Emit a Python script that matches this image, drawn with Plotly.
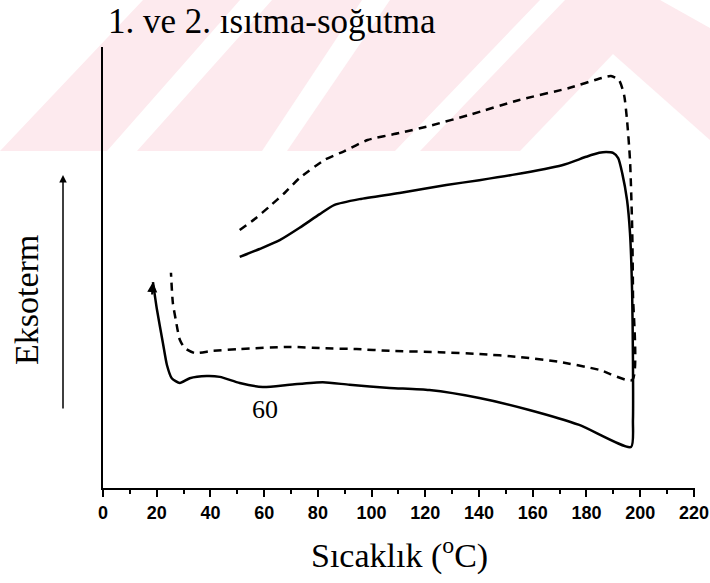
import plotly.graph_objects as go

# ---- data (temperature in °C, signal in arbitrary units) ----
solid_T = [50.9, 58.3, 65.8, 73.2, 80.7, 86.2, 95.5, 110.4, 127.8, 140.1, 152.4, 170.9, 179.9,
           184.7, 187.3, 189.9, 191.8, 193.3, 195.1, 196.2, 197.0, 197.3, 197.3, 196.6,
           177.3, 158.7, 140.1, 121.5, 106.7, 91.8, 81.8, 69.5, 59.5, 50.9, 43.5, 38.6, 32.3,
           28.6, 25.6, 23.8, 22.3, 20.1, 18.6]
solid_S = [52.4, 54.2, 56.2, 59.0, 62.1, 64.2, 65.5, 66.9, 68.7, 69.8, 71.0, 73.2, 75.1,
           76.0, 76.2, 76.0, 74.8, 71.4, 65.3, 57.8, 44.2, 29.0, 15.4, 9.3,
           14.3, 17.7, 20.4, 22.2, 22.7, 23.4, 24.0, 23.4, 22.9, 23.8, 25.2, 25.4, 24.9,
           23.8, 24.9, 27.9, 32.9, 40.4, 46.7]

dash_T = [50.9, 56.5, 62.1, 67.6, 73.2, 82.5, 89.9, 98.5, 110.4, 121.5, 136.4, 155.0, 173.5,
          185.8, 189.1, 192.1, 194.0, 195.1, 196.2, 197.0, 197.3, 197.0,
          184.7, 169.8, 155.0, 140.1, 125.2, 106.7, 94.4, 81.8, 69.5, 50.9, 40.9, 34.2,
          30.5, 28.6, 27.1, 26.0, 25.3]
dash_S = [58.5, 61.0, 63.9, 66.9, 70.3, 74.4, 76.4, 78.9, 80.5, 82.1, 84.6, 88.0, 90.7,
          93.0, 93.4, 92.5, 89.1, 83.4, 74.4, 59.2, 44.2, 24.5,
          26.8, 28.6, 29.7, 30.4, 30.8, 31.1, 31.5, 31.7, 32.0, 31.5, 31.1, 30.6,
          31.7, 33.6, 38.1, 42.0, 48.8]

x_ticks = [0, 20, 40, 60, 80, 100, 120, 140, 160, 180, 200, 220]

title_text = "1. ve 2. ısıtma-soğutma"
x_title = "Sıcaklık (<sup>o</sup>C)"
y_title = "Eksoterm"
curve_label = "60"
label_pos = (60.2, 17.7)

# ---- layout geometry (pixels) ----
W, H = 710, 583
ML, MR, MT, MB = 103, 15, 47, 95
PW, PH = W - ML - MR, H - MT - MB


def px(x):
    return (x - ML) / PW


def py(y):
    return (H - MB - y) / PH


def poly(points):
    return "M " + " L ".join(f"{px(a):.4f},{py(b):.4f}" for a, b in points) + " Z"


fig = go.Figure()
fig.add_trace(go.Scatter(x=solid_T, y=solid_S, mode="lines",
                         line=dict(color="black", width=2.5, shape="spline", smoothing=0.6),
                         showlegend=False, hoverinfo="skip"))
fig.add_trace(go.Scatter(x=dash_T, y=dash_S, mode="lines",
                         line=dict(color="black", width=2.5, dash="8px,6px", shape="spline", smoothing=0.6),
                         showlegend=False, hoverinfo="skip"))

# watermark (faint pink stripes)
pink = "#fdeaee"
shapes = [
    dict(type="path", xref="paper", yref="paper", layer="below", line_width=0, fillcolor=pink,
         path=poly([(0, 151), (143, 0), (710, 0), (710, 151)])),
]
white_polys = [
    [(107, 151), (137, 151), (272, 0), (240, 0)],
    [(262, 151), (287, 151), (390, 0), (362, 0)],
    [(395, 151), (420, 151), (565, 0), (540, 0)],
    [(520, 151), (613, 54), (710, 140), (710, 151)],
    [(660, 0), (710, 0), (710, 28)],
]
for pts in white_polys:
    shapes.append(dict(type="path", xref="paper", yref="paper", layer="below", line_width=0,
                       fillcolor="white", path=poly(pts)))

annotations = [
    dict(text=title_text, x=px(106), y=py(21), xref="paper", yref="paper", xanchor="left",
         yanchor="middle", showarrow=False, font=dict(family="Liberation Serif", size=35, color="black")),
    dict(text=x_title, x=px(399), y=py(553), xref="paper", yref="paper", xanchor="center",
         yanchor="middle", showarrow=False, font=dict(family="Liberation Serif", size=34, color="black")),
    dict(text=y_title, x=px(26), y=py(300), xref="paper", yref="paper", xanchor="center",
         yanchor="middle", textangle=-90, showarrow=False,
         font=dict(family="Liberation Serif", size=34, color="black")),
    dict(text=curve_label, x=label_pos[0], y=label_pos[1], xref="x", yref="y", showarrow=False,
         font=dict(family="Liberation Serif", size=26, color="black")),
    # exotherm arrow
    dict(text="", x=px(63), y=py(175), xref="paper", yref="paper", showarrow=True,
         ax=0, ay=235, arrowhead=2, arrowsize=1, arrowwidth=1.5, arrowcolor="black"),
    # arrowhead on the end of the solid curve
    dict(text="", x=solid_T[-1], y=solid_S[-1], xref="x", yref="y", showarrow=True,
         ax=-1, ay=14, arrowhead=2, arrowsize=1, arrowwidth=2, arrowcolor="black"),
]

fig.update_layout(
    width=W, height=H,
    margin=dict(l=ML, r=MR, t=MT, b=MB, autoexpand=False),
    paper_bgcolor="white", plot_bgcolor="rgba(0,0,0,0)",
    shapes=shapes, annotations=annotations,
    xaxis=dict(range=[0, 220.4], tickvals=x_ticks, ticktext=[str(v) for v in x_ticks],
               showline=True, linecolor="black", linewidth=2, ticks="outside", ticklen=7,
               tickwidth=2, tickcolor="black", showgrid=False, zeroline=False,
               ticklabeloverflow="allow", automargin=False,
               minor=dict(dtick=10, ticks="outside", ticklen=4, tickwidth=2, tickcolor="black", showgrid=False),
               tickfont=dict(family="Liberation Sans", size=18, color="black", weight="bold")),
    yaxis=dict(range=[0, 100], showline=True, linecolor="black", linewidth=2, ticks="",
               showticklabels=False, showgrid=False, zeroline=False, automargin=False),
)

fig.write_html("out.html")
